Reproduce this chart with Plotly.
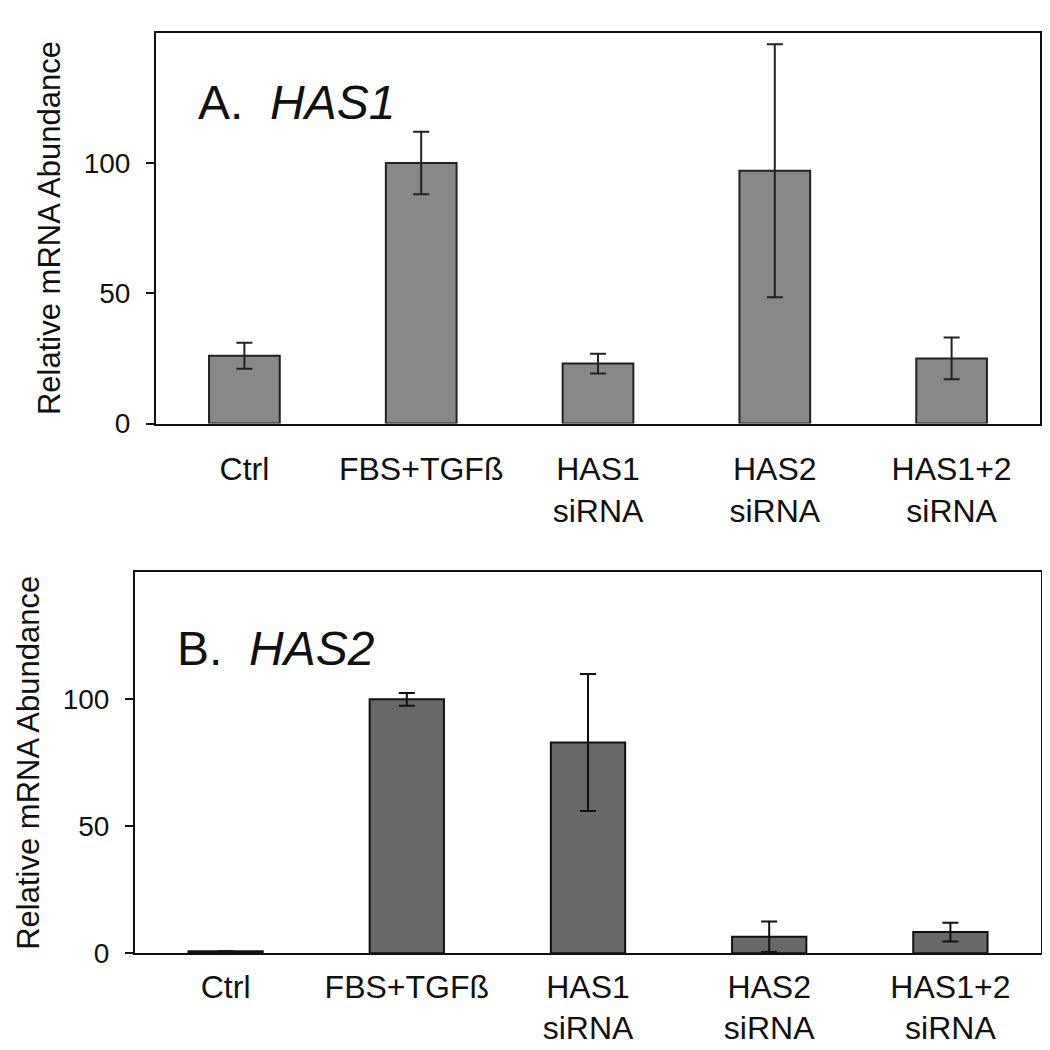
import plotly.graph_objects as go

# categories and values
categories = ['Ctrl', 'FBS+TGFß', 'HAS1<br>siRNA', 'HAS2<br>siRNA', 'HAS1+2<br>siRNA']

has1_mean = [26, 100, 23, 97, 25]
has1_err = [5, 12, 3.8, 48.5, 8]

has2_mean = [0.8, 100, 83, 6.5, 8.4]
has2_err = [0, 2.5, 27, 6, 3.7]

y_ticks = [0, 50, 100]

font_family = 'Liberation Sans, Arial, sans-serif'

fig = go.Figure()

# top panel (A. HAS1)
fig.add_trace(go.Bar(
    x=categories, y=has1_mean, width=0.40,
    marker=dict(color='#888888', line=dict(color='#222222', width=2)),
    error_y=dict(type='data', array=has1_err, visible=True,
                 color='#222222', thickness=2, width=8),
    xaxis='x', yaxis='y', showlegend=False
))

# bottom panel (B. HAS2)
fig.add_trace(go.Bar(
    x=categories, y=has2_mean, width=0.41,
    marker=dict(color='#686868', line=dict(color='#111111', width=2)),
    error_y=dict(type='data', array=has2_err, visible=True,
                 color='#111111', thickness=2, width=8),
    xaxis='x2', yaxis='y2', showlegend=False
))

W = H = 1050

xaxis_common = dict(
    type='category', showline=True, mirror=True, linecolor='#111111', linewidth=2,
    ticks='', showgrid=False, zeroline=False,
    tickfont=dict(family=font_family, size=32, color='#111111'),
)
yaxis_common = dict(
    range=[0, 150], tickvals=y_ticks, showline=True, mirror=True,
    linecolor='#111111', linewidth=2, ticks='outside', ticklen=8, tickwidth=2,
    tickcolor='#111111', showgrid=False, zeroline=False, ticklabelstandoff=10,
    tickfont=dict(family=font_family, size=28, color='#111111'),
    title=dict(text='Relative mRNA Abundance', standoff=14,
               font=dict(family=font_family, size=31, color='#111111')),
)

fig.update_layout(
    width=W, height=H,
    margin=dict(l=0, r=0, t=0, b=0),
    paper_bgcolor='white', plot_bgcolor='white',
    xaxis=dict(xaxis_common, domain=[148 / W, 1032 / W], anchor='y', ticklabelstandoff=16),
    yaxis=dict(yaxis_common, domain=[1 - 422 / H, 1 - 25 / H], anchor='x'),
    xaxis2=dict(xaxis_common, domain=[127 / W, 1033 / W], anchor='y2', ticklabelstandoff=4),
    yaxis2=dict(yaxis_common, domain=[1 - 960 / H, 1 - 573 / H], anchor='x2'),
    annotations=[
        dict(text='A.  <i>HAS1</i>', xref='x domain', yref='y domain',
             x=0.045, y=0.82, xanchor='left', yanchor='middle', showarrow=False,
             font=dict(family=font_family, size=48, color='#111111')),
        dict(text='B.  <i>HAS2</i>', xref='x2 domain', yref='y2 domain',
             x=0.044, y=0.80, xanchor='left', yanchor='middle', showarrow=False,
             font=dict(family=font_family, size=48, color='#111111')),
    ],
)

fig.write_html('out.html')
